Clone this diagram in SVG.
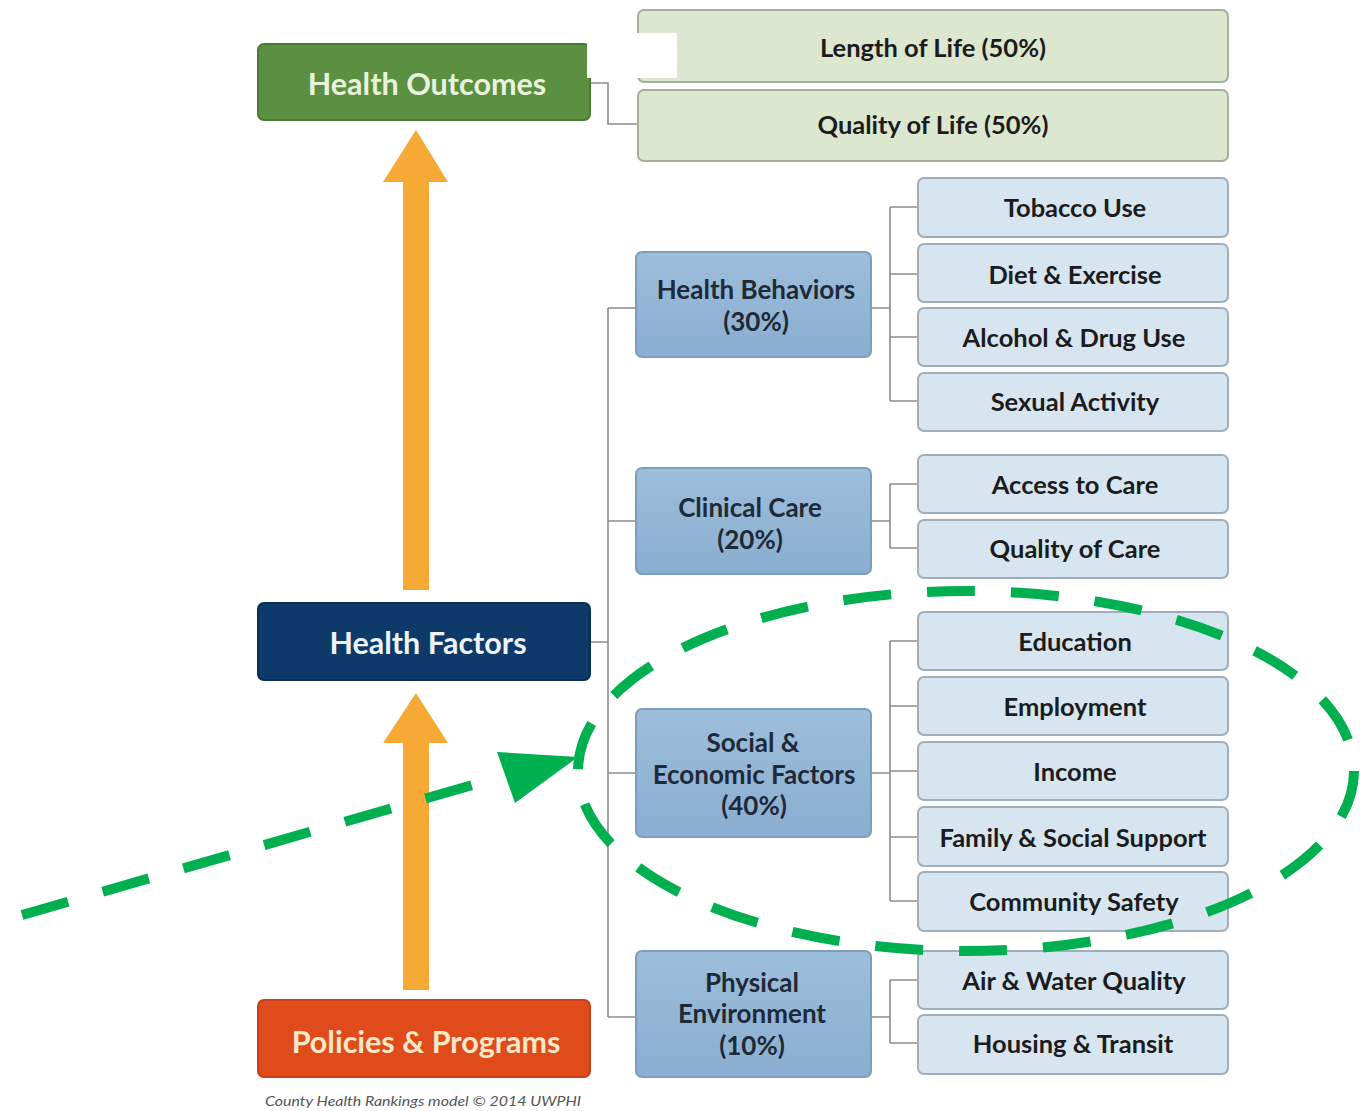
<svg xmlns="http://www.w3.org/2000/svg" width="1360" height="1111" viewBox="0 0 1360 1111">
<defs>
<style>
text{font-family:Lato,"Open Sans","Liberation Sans",sans-serif;font-weight:bold;text-anchor:middle;dominant-baseline:central}
.main{font-size:30.5px}
.mid{font-size:26px;fill:#1f2a38}
.leaf{font-size:25.5px;fill:#1c1c1c}
.green{fill:#dce7cf;stroke:#a4b09c;stroke-width:2}
.leafbox{fill:#d7e5f0;stroke:#a0aeba;stroke-width:2}
.conn{fill:none;stroke:#8c8c8c;stroke-width:1.6}
.orange{fill:#f6a935}
.gd{fill:none;stroke:#00b050;stroke-width:10;stroke-dasharray:48 36}
</style>
<linearGradient id="catg" x1="0" y1="0" x2="0" y2="1"><stop offset="0" stop-color="#9dbedb"/><stop offset="1" stop-color="#8aaed0"/></linearGradient>
</defs>
<rect width="1360" height="1111" fill="#ffffff"/>

<g id="arrows-orange">
<polygon class="orange" points="403,590 403,182 383,182 416,130 448,182 429,182 429,590"/>
<polygon class="orange" points="403,990 403,743 383,743 416,693 448,743 429,743 429,990"/>
</g>

<g id="connectors">
<path class="conn" d="M590,83 H608 V124 H638 M608,47 H638"/>
<path class="conn" d="M608,308 V1017 M590,642 H608 M608,308 H636 M608,521 H636 M608,773 H636 M608,1017 H636"/>
<path class="conn" d="M871,308 H890 M890,207 V401 M890,207 H918 M890,274 H918 M890,337 H918 M890,401 H918"/>
<path class="conn" d="M871,521 H890 M890,484 V548 M890,484 H918 M890,548 H918"/>
<path class="conn" d="M871,773 H890 M890,641 V901 M890,641 H918 M890,706 H918 M890,771 H918 M890,837 H918 M890,901 H918"/>
<path class="conn" d="M871,1017 H890 M890,980 V1043 M890,980 H918 M890,1043 H918"/>
</g>

<g id="health-outcomes"><rect x="258" y="44" width="332" height="76" rx="6" fill="#5b8f42" stroke="#4b7a36" stroke-width="2"/><text class="main" x="427" y="83" fill="#e9f3dc">Health Outcomes</text></g>
<g id="health-factors"><rect x="258" y="603" width="332" height="77" rx="6" fill="#0e3a6a" stroke="#0a2d55" stroke-width="2"/><text class="main" x="428" y="642" fill="#eef3f8">Health Factors</text></g>
<g id="policies-programs"><rect x="258" y="1000" width="332" height="77" rx="6" fill="#e04b1c" stroke="#c8401a" stroke-width="2"/><text class="main" x="426" y="1041" fill="#f6e7c9">Policies &amp; Programs</text></g>

<g id="length-of-life"><rect class="green" x="638" y="10" width="590" height="72" rx="6"/><text class="leaf" x="933" y="47">Length of Life (50%)</text></g>
<g id="quality-of-life"><rect class="green" x="638" y="90" width="590" height="71" rx="6"/><text class="leaf" x="933" y="124">Quality of Life (50%)</text></g>

<rect id="mask-white" x="587" y="33" width="90" height="45" fill="#ffffff"/>

<g id="health-behaviors"><rect x="636" y="252" width="235" height="105" rx="6" fill="url(#catg)" stroke="#7c9dbb" stroke-width="2"/><text class="mid" x="756" y="289">Health Behaviors</text><text class="mid" x="756" y="321">(30%)</text></g>
<g id="clinical-care"><rect x="636" y="468" width="235" height="106" rx="6" fill="url(#catg)" stroke="#7c9dbb" stroke-width="2"/><text class="mid" x="750" y="507">Clinical Care</text><text class="mid" x="750" y="539">(20%)</text></g>
<g id="social-economic"><rect x="636" y="709" width="235" height="128" rx="6" fill="url(#catg)" stroke="#7c9dbb" stroke-width="2"/><text class="mid" x="753" y="742">Social &amp;</text><text class="mid" x="754" y="774">Economic Factors</text><text class="mid" x="754" y="805">(40%)</text></g>
<g id="physical-environment"><rect x="636" y="951" width="235" height="126" rx="6" fill="url(#catg)" stroke="#7c9dbb" stroke-width="2"/><text class="mid" x="752" y="982">Physical</text><text class="mid" x="752" y="1013">Environment</text><text class="mid" x="752" y="1045">(10%)</text></g>

<g id="tobacco-use"><rect class="leafbox" x="918" y="178" width="310" height="59" rx="6"/><text class="leaf" x="1075" y="207">Tobacco Use</text></g>
<g id="diet-exercise"><rect class="leafbox" x="918" y="244" width="310" height="58" rx="6"/><text class="leaf" x="1075" y="274">Diet &amp; Exercise</text></g>
<g id="alcohol-drug"><rect class="leafbox" x="918" y="308" width="310" height="58" rx="6"/><text class="leaf" x="1074" y="337">Alcohol &amp; Drug Use</text></g>
<g id="sexual-activity"><rect class="leafbox" x="918" y="373" width="310" height="58" rx="6"/><text class="leaf" x="1075" y="401">Sexual Activity</text></g>
<g id="access-care"><rect class="leafbox" x="918" y="455" width="310" height="58" rx="6"/><text class="leaf" x="1075" y="484">Access to Care</text></g>
<g id="quality-care"><rect class="leafbox" x="918" y="520" width="310" height="58" rx="6"/><text class="leaf" x="1075" y="548">Quality of Care</text></g>
<g id="education"><rect class="leafbox" x="918" y="612" width="310" height="58" rx="6"/><text class="leaf" x="1075" y="641">Education</text></g>
<g id="employment"><rect class="leafbox" x="918" y="677" width="310" height="58" rx="6"/><text class="leaf" x="1075" y="706">Employment</text></g>
<g id="income"><rect class="leafbox" x="918" y="742" width="310" height="58" rx="6"/><text class="leaf" x="1075" y="771">Income</text></g>
<g id="family-social"><rect class="leafbox" x="918" y="807" width="310" height="59" rx="6"/><text class="leaf" x="1073" y="837">Family &amp; Social Support</text></g>
<g id="community-safety"><rect class="leafbox" x="918" y="872" width="310" height="59" rx="6"/><text class="leaf" x="1074" y="901">Community Safety</text></g>
<g id="air-water"><rect class="leafbox" x="918" y="951" width="310" height="58" rx="6"/><text class="leaf" x="1074" y="980">Air &amp; Water Quality</text></g>
<g id="housing-transit"><rect class="leafbox" x="918" y="1015" width="310" height="59" rx="6"/><text class="leaf" x="1073" y="1043">Housing &amp; Transit</text></g>

<text x="423" y="1100" style="font-size:14px;font-style:italic;font-weight:normal;fill:#555555" textLength="316" lengthAdjust="spacingAndGlyphs">County Health Rankings model © 2014 UWPHI</text>

<g id="green-highlight">
<ellipse class="gd" cx="966" cy="771" rx="388" ry="180"/>
<line class="gd" x1="22" y1="915" x2="500" y2="777" stroke-width="11"/>
<polygon points="497,752 578,757 515,803" fill="#00b050"/>
</g>
</svg>
